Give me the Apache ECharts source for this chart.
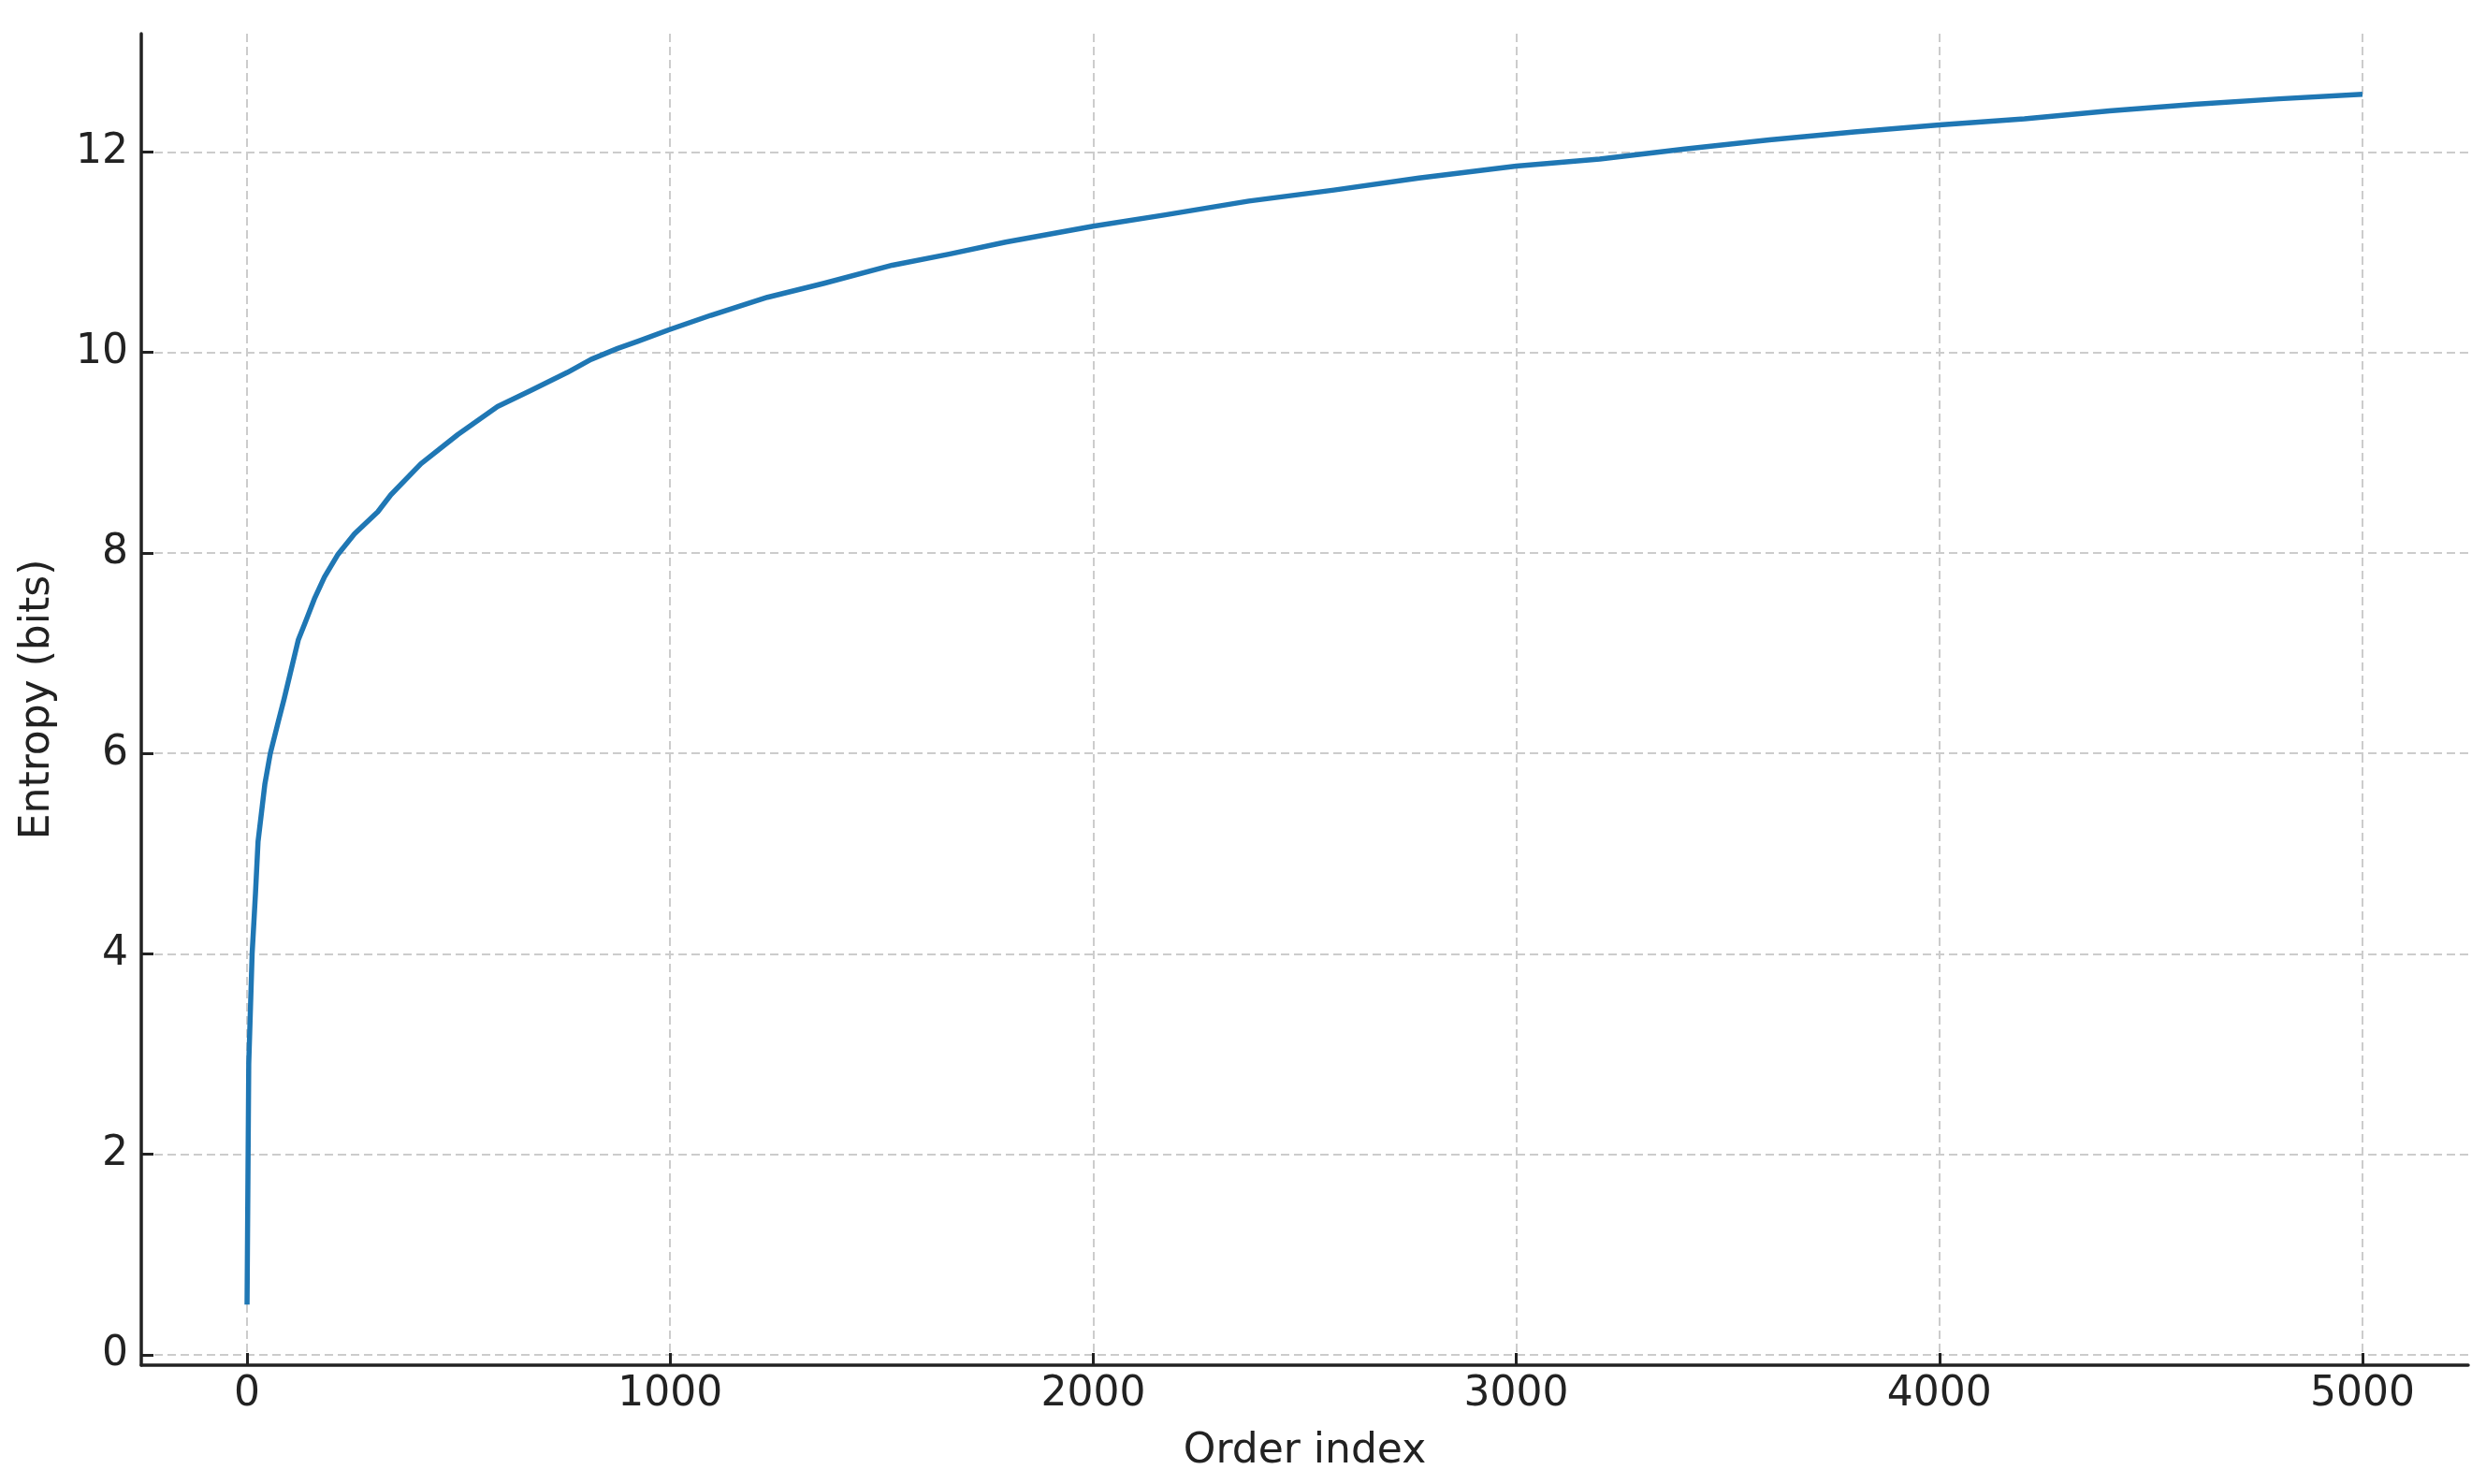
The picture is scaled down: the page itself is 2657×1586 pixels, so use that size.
<!DOCTYPE html>
<html>
<head>
<meta charset="utf-8">
<script src="https://cdn.jsdelivr.net/npm/echarts@6/dist/echarts.min.js"></script>
<style>
  html, body { margin: 0; padding: 0; background: #fff; }
  #entropy_chart { width: 2657px; height: 1586px; }
</style>
</head>
<body>
<div id="entropy_chart"></div>
<script>
// values
var orderIndex = [0, 4, 12, 20, 26, 42, 55, 74, 88, 121, 136, 159, 183, 214, 254, 309, 340, 411, 498, 592, 671, 757, 813, 876, 923, 1000, 1096, 1230, 1364, 1525, 1659, 1793, 2000, 2167, 2368, 2569, 2770, 3000, 3197, 3398, 3598, 3799, 4000, 4201, 4402, 4602, 4803, 5000];
var entropyBits = [0.50, 2.90, 4.00, 4.61, 5.12, 5.69, 6.00, 6.32, 6.55, 7.13, 7.29, 7.54, 7.76, 7.98, 8.19, 8.41, 8.58, 8.89, 9.18, 9.46, 9.62, 9.80, 9.93, 10.04, 10.11, 10.23, 10.37, 10.55, 10.69, 10.87, 10.98, 11.10, 11.26, 11.37, 11.51, 11.62, 11.74, 11.86, 11.93, 12.03, 12.12, 12.20, 12.27, 12.33, 12.41, 12.475, 12.53, 12.575];
var xTicks = [0, 1000, 2000, 3000, 4000, 5000];
var yTicks = [0, 2, 4, 6, 8, 10, 12];

var setLine = function() {
	var font = 'DejaVu Sans';
	var ink = '#222222';
	var points = orderIndex.map(function(x, i) {
		return [x, entropyBits[i]];
	});
	var option = {
		animation: false,
		backgroundColor: '#ffffff',
		grid: {
			left: 151,
			right: 19,
			top: 36,
			bottom: 127
		},
		xAxis: {
			type: 'value',
			min: -250,
			max: 5250,
			name: 'Order index',
			nameLocation: 'middle',
			nameGap: 71,
			nameTextStyle: { fontFamily: font, fontSize: 44, color: ink },
			axisLine: { onZero: false, lineStyle: { color: ink, width: 3.5 } },
			axisTick: { inside: true, length: 13, customValues: xTicks, lineStyle: { color: ink, width: 3 } },
			axisLabel: {
				customValues: xTicks, margin: 10, fontFamily: font, fontSize: 44, color: ink,
				formatter: function(v) { return String(v); }
			},
			splitLine: { show: true, lineStyle: { color: '#cccccc', width: 2, type: [9, 5] } }
		},
		yAxis: {
			type: 'value',
			min: -0.104,
			max: 13.18,
			name: 'Entropy (bits)',
			nameLocation: 'middle',
			nameGap: 88,
			nameTextStyle: { fontFamily: font, fontSize: 44, color: ink },
			axisLine: { show: true, onZero: false, lineStyle: { color: ink, width: 3.5 } },
			axisTick: { show: true, inside: true, length: 13, customValues: yTicks, lineStyle: { color: ink, width: 3 } },
			axisLabel: {
				customValues: yTicks, margin: 14, fontFamily: font, fontSize: 44, color: ink,
				formatter: function(v) { return String(v); }
			},
			splitLine: { show: true, lineStyle: { color: '#cccccc', width: 2, type: [9, 5] } }
		},
		series: [{
			type: 'line',
			data: points,
			smooth: false,
			showSymbol: false,
			lineStyle: { color: '#1f77b4', width: 5.5, join: 'round', cap: 'butt' }
		}]
	};
	//初始化echarts实例
	var myChart = echarts.init(document.getElementById('entropy_chart'));
	myChart.setOption(option);
}
setLine();
</script>
</body>
</html>
